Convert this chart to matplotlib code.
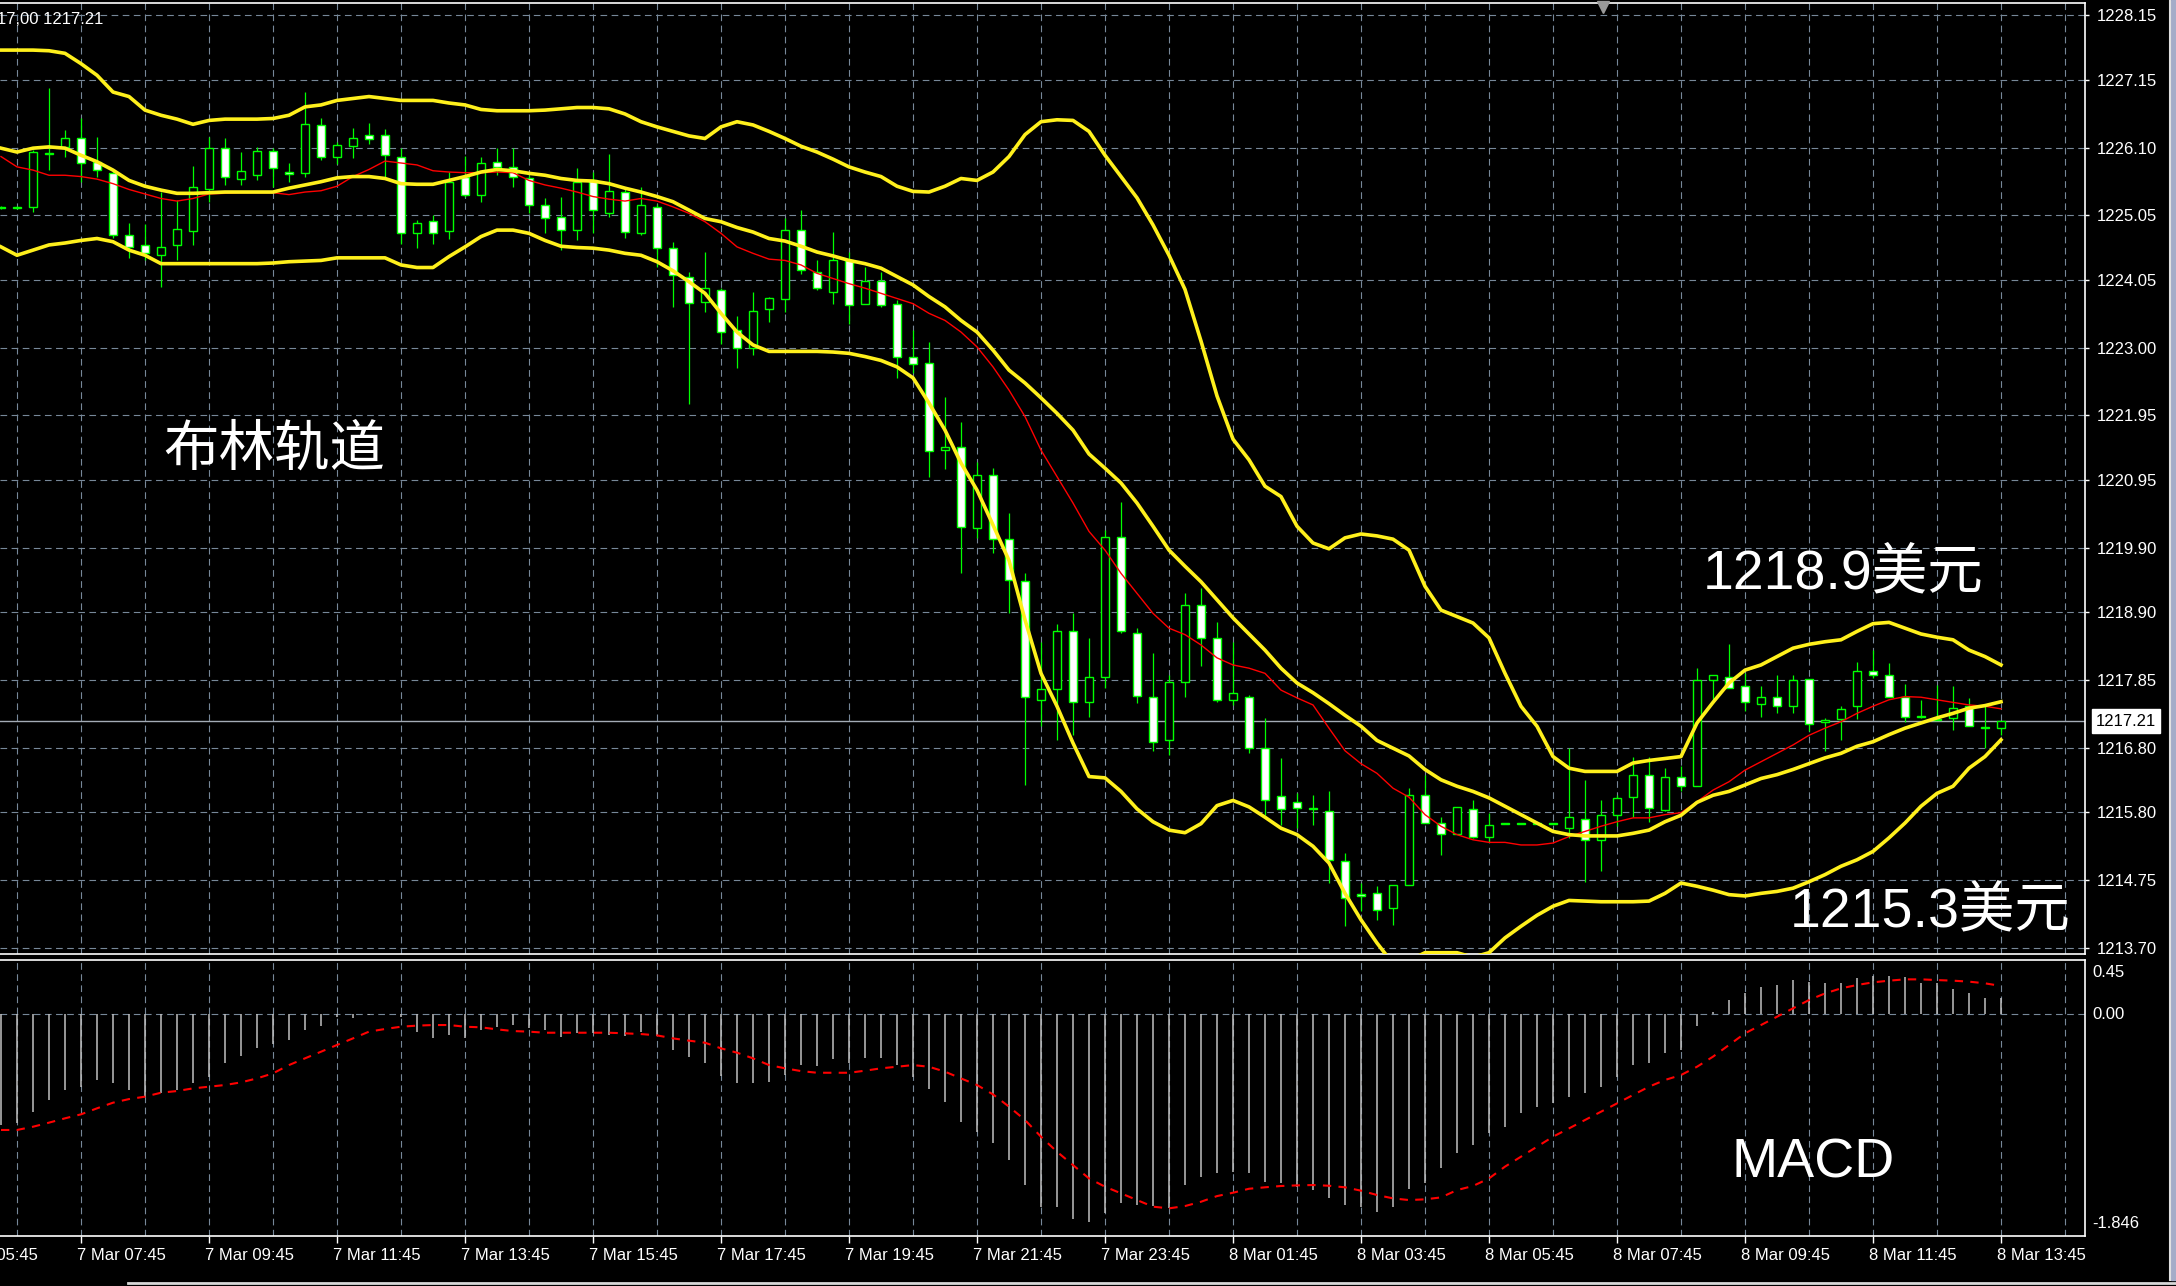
import matplotlib
matplotlib.use("Agg")
import matplotlib.pyplot as plt
import numpy as np
from matplotlib.transforms import blended_transform_factory
from matplotlib.lines import Line2D
from matplotlib.patches import Rectangle

# 15-minute candles, 7 Mar 06:30 .. 8 Mar 13:45
opens = [
    1225.17, 1225.17, 1225.18, 1226.00, 1226.11, 1226.24, 1225.88, 1225.71, 1224.74, 1224.59,
    1224.43, 1224.59, 1224.80, 1225.45, 1226.09, 1225.61, 1225.67, 1226.05, 1225.72, 1225.70,
    1226.45, 1225.96, 1226.12, 1226.29, 1226.29, 1225.95, 1224.78, 1224.96, 1224.80, 1225.65,
    1225.36, 1225.88, 1225.80, 1225.62, 1225.21, 1225.03, 1224.82, 1225.59, 1225.09, 1225.41,
    1224.77, 1225.18, 1224.54, 1224.10, 1223.71, 1223.89, 1223.27, 1222.99, 1223.59, 1223.75,
    1224.82, 1224.17, 1223.86, 1224.35, 1223.68, 1224.03, 1223.67, 1222.86, 1222.76, 1221.41,
    1221.46, 1220.20, 1221.02, 1220.03, 1219.38, 1217.53, 1217.70, 1218.61, 1217.50, 1217.90,
    1220.07, 1218.57, 1217.59, 1216.91, 1217.81, 1219.01, 1218.50, 1217.53, 1217.59, 1216.79,
    1216.05, 1215.95, 1215.87, 1215.82, 1215.04, 1214.53, 1214.55, 1214.31, 1214.67, 1216.07,
    1215.63, 1215.46, 1215.84, 1215.42, 1215.62, 1215.62, 1215.62, 1215.62, 1215.55, 1215.69,
    1215.36, 1215.76, 1216.04, 1216.38, 1215.83, 1216.35, 1216.20, 1217.84, 1217.90, 1217.75,
    1217.48, 1217.59, 1217.44, 1217.86, 1217.19, 1217.24, 1217.44, 1217.99, 1217.93, 1217.59,
    1217.28, 1217.23, 1217.26, 1217.44, 1217.11, 1217.10,
]
highs = [
    1225.19, 1225.19, 1226.06, 1227.02, 1226.37, 1226.55, 1226.27, 1225.75, 1224.93, 1224.92,
    1225.41, 1225.28, 1225.81, 1226.27, 1226.24, 1226.03, 1226.11, 1226.09, 1225.86, 1226.96,
    1226.55, 1226.19, 1226.40, 1226.48, 1226.39, 1226.09, 1224.97, 1225.06, 1225.72, 1225.97,
    1225.96, 1226.09, 1226.09, 1225.67, 1225.31, 1225.34, 1225.78, 1225.72, 1226.00, 1225.47,
    1225.49, 1225.23, 1224.64, 1224.17, 1224.48, 1223.92, 1223.49, 1223.86, 1223.79, 1225.00,
    1225.13, 1224.35, 1224.79, 1224.48, 1224.25, 1224.17, 1223.73, 1223.27, 1223.09, 1222.24,
    1221.85, 1221.23, 1221.13, 1220.44, 1219.51, 1218.44, 1218.72, 1218.89, 1218.50, 1220.17,
    1220.60, 1218.65, 1218.27, 1217.93, 1219.20, 1219.27, 1218.74, 1218.44, 1217.62, 1217.26,
    1216.64, 1216.10, 1216.07, 1216.12, 1215.16, 1214.70, 1214.65, 1214.67, 1216.17, 1216.38,
    1215.73, 1215.88, 1215.99, 1215.78, 1215.63, 1215.63, 1215.63, 1215.63, 1216.79, 1216.30,
    1215.99, 1216.07, 1216.66, 1216.66, 1216.48, 1216.51, 1218.03, 1217.93, 1218.41, 1217.95,
    1217.75, 1217.93, 1217.93, 1217.86, 1217.26, 1217.44, 1218.13, 1218.31, 1218.11, 1217.79,
    1217.54, 1217.77, 1217.75, 1217.57, 1217.44, 1217.21,
]
lows = [
    1225.15, 1225.15, 1225.10, 1225.75, 1225.96, 1225.57, 1225.65, 1224.69, 1224.38, 1224.35,
    1223.94, 1224.35, 1224.59, 1225.26, 1225.52, 1225.52, 1225.59, 1225.49, 1225.57, 1225.65,
    1225.90, 1225.85, 1225.94, 1226.16, 1225.65, 1224.61, 1224.55, 1224.61, 1224.68, 1225.33,
    1225.26, 1225.67, 1225.49, 1225.08, 1224.77, 1224.51, 1224.66, 1224.77, 1225.03, 1224.69,
    1224.74, 1224.25, 1223.63, 1222.13, 1223.55, 1223.06, 1222.68, 1222.88, 1223.40, 1223.55,
    1224.14, 1223.89, 1223.68, 1223.37, 1223.68, 1223.63, 1222.52, 1222.60, 1220.99, 1221.12,
    1219.50, 1220.05, 1219.81, 1218.88, 1216.22, 1217.13, 1216.91, 1217.00, 1217.27, 1217.72,
    1218.57, 1217.49, 1216.75, 1216.69, 1217.58, 1218.07, 1217.50, 1217.46, 1216.72, 1215.75,
    1215.60, 1215.55, 1215.60, 1214.70, 1214.03, 1214.26, 1214.13, 1214.05, 1214.67, 1215.63,
    1215.14, 1215.46, 1215.40, 1215.34, 1215.61, 1215.61, 1215.61, 1215.61, 1215.40, 1214.72,
    1214.88, 1215.58, 1215.73, 1215.65, 1215.81, 1216.12, 1216.20, 1217.49, 1217.72, 1217.36,
    1217.28, 1217.33, 1217.33, 1217.05, 1216.74, 1216.92, 1217.24, 1217.88, 1217.59, 1217.20,
    1217.26, 1217.22, 1217.07, 1217.13, 1216.79, 1217.00,
]
closes = [
    1225.17, 1225.17, 1226.03, 1226.02, 1226.24, 1225.86, 1225.75, 1224.74, 1224.56, 1224.46,
    1224.56, 1224.84, 1225.49, 1226.09, 1225.65, 1225.74, 1226.05, 1225.78, 1225.69, 1226.47,
    1225.95, 1226.14, 1226.24, 1226.23, 1225.98, 1224.78, 1224.93, 1224.78, 1225.57, 1225.36,
    1225.86, 1225.80, 1225.65, 1225.21, 1225.00, 1224.82, 1225.57, 1225.13, 1225.43, 1224.79,
    1225.21, 1224.54, 1224.12, 1223.69, 1223.92, 1223.24, 1222.99, 1223.57, 1223.76, 1224.82,
    1224.20, 1223.92, 1224.35, 1223.66, 1224.03, 1223.66, 1222.86, 1222.75, 1221.40, 1221.46,
    1220.22, 1221.02, 1220.03, 1219.40, 1217.59, 1217.70, 1218.61, 1217.50, 1217.90, 1220.07,
    1218.61, 1217.60, 1216.88, 1217.81, 1219.01, 1218.50, 1217.53, 1217.65, 1216.79, 1215.98,
    1215.85, 1215.86, 1215.85, 1215.06, 1214.47, 1214.50, 1214.28, 1214.67, 1216.07, 1215.63,
    1215.46, 1215.88, 1215.42, 1215.60, 1215.62, 1215.62, 1215.62, 1215.62, 1215.73, 1215.37,
    1215.76, 1216.02, 1216.38, 1215.86, 1216.35, 1216.20, 1217.85, 1217.93, 1217.72, 1217.50,
    1217.59, 1217.44, 1217.84, 1217.17, 1217.22, 1217.40, 1217.99, 1217.93, 1217.59, 1217.28,
    1217.28, 1217.23, 1217.41, 1217.13, 1217.11, 1217.21,
]

# bollinger bands and the red moving average, read per candle
band_upper = [
    1227.61, 1227.61, 1227.61, 1227.60, 1227.56, 1227.40, 1227.22, 1226.96, 1226.89, 1226.68,
    1226.60, 1226.54, 1226.46, 1226.52, 1226.54, 1226.54, 1226.54, 1226.55, 1226.60, 1226.73,
    1226.76, 1226.83, 1226.86, 1226.89, 1226.86, 1226.83, 1226.83, 1226.83, 1226.79, 1226.76,
    1226.69, 1226.67, 1226.67, 1226.67, 1226.68, 1226.70, 1226.72, 1226.72, 1226.70, 1226.62,
    1226.50, 1226.42, 1226.35, 1226.28, 1226.24, 1226.42, 1226.50, 1226.45, 1226.35, 1226.24,
    1226.12, 1226.03, 1225.92, 1225.80, 1225.72, 1225.65, 1225.50, 1225.42, 1225.41, 1225.50,
    1225.62, 1225.59, 1225.72, 1225.96, 1226.30, 1226.50, 1226.53, 1226.52, 1226.35, 1225.98,
    1225.65, 1225.32, 1224.90, 1224.43, 1223.90, 1223.10, 1222.25, 1221.58, 1221.26, 1220.85,
    1220.69, 1220.23, 1219.97, 1219.88, 1220.05, 1220.11, 1220.08, 1220.03, 1219.86, 1219.30,
    1218.93, 1218.83, 1218.73, 1218.50, 1217.95, 1217.44, 1217.13, 1216.66, 1216.48, 1216.43,
    1216.43, 1216.43, 1216.56, 1216.60, 1216.63, 1216.66, 1217.18, 1217.50, 1217.80, 1218.00,
    1218.08, 1218.21, 1218.34, 1218.40, 1218.44, 1218.47, 1218.60, 1218.72, 1218.74, 1218.65,
    1218.56, 1218.51, 1218.47, 1218.31, 1218.21, 1218.08,
]
band_mid = [
    1226.09, 1226.03, 1226.09, 1226.11, 1226.09, 1225.98, 1225.88, 1225.75, 1225.59, 1225.50,
    1225.44, 1225.39, 1225.39, 1225.40, 1225.41, 1225.41, 1225.41, 1225.41, 1225.47, 1225.52,
    1225.57, 1225.63, 1225.65, 1225.65, 1225.62, 1225.54, 1225.53, 1225.53, 1225.59, 1225.65,
    1225.72, 1225.76, 1225.74, 1225.70, 1225.67, 1225.62, 1225.59, 1225.58, 1225.54, 1225.47,
    1225.41, 1225.34, 1225.26, 1225.13, 1225.00, 1224.95, 1224.86, 1224.79, 1224.69, 1224.65,
    1224.57, 1224.48, 1224.42, 1224.35, 1224.30, 1224.23, 1224.10, 1223.97, 1223.79, 1223.63,
    1223.42, 1223.24, 1222.96, 1222.65, 1222.45, 1222.22, 1221.98, 1221.72, 1221.35, 1221.13,
    1220.90, 1220.59, 1220.23, 1219.86, 1219.61, 1219.37, 1219.09, 1218.81, 1218.56, 1218.31,
    1218.03, 1217.80, 1217.65, 1217.48, 1217.30, 1217.13, 1216.91, 1216.79, 1216.67, 1216.46,
    1216.30, 1216.20, 1216.12, 1216.02, 1215.89, 1215.76, 1215.63, 1215.50, 1215.45, 1215.43,
    1215.43, 1215.43, 1215.47, 1215.52, 1215.65, 1215.75, 1215.95, 1216.06, 1216.12, 1216.22,
    1216.32, 1216.38, 1216.46, 1216.55, 1216.64, 1216.71, 1216.82, 1216.89, 1217.00, 1217.10,
    1217.18, 1217.26, 1217.33, 1217.41, 1217.45, 1217.51,
]
band_lower = [
    1224.56, 1224.43, 1224.51, 1224.59, 1224.62, 1224.66, 1224.69, 1224.64, 1224.51, 1224.43,
    1224.30, 1224.30, 1224.30, 1224.30, 1224.30, 1224.30, 1224.30, 1224.31, 1224.33, 1224.34,
    1224.35, 1224.39, 1224.39, 1224.39, 1224.39, 1224.28, 1224.24, 1224.24, 1224.41, 1224.56,
    1224.72, 1224.82, 1224.82, 1224.77, 1224.66, 1224.57, 1224.55, 1224.54, 1224.51, 1224.46,
    1224.43, 1224.33, 1224.19, 1224.02, 1223.84, 1223.53, 1223.24, 1223.04, 1222.94, 1222.94,
    1222.94, 1222.94, 1222.93, 1222.91, 1222.86, 1222.80, 1222.70, 1222.53, 1222.14, 1221.72,
    1221.21, 1220.79, 1220.25, 1219.70, 1218.78, 1217.95, 1217.44, 1216.87, 1216.35, 1216.33,
    1216.12, 1215.85, 1215.65, 1215.52, 1215.48, 1215.62, 1215.90, 1215.98, 1215.88, 1215.72,
    1215.55, 1215.45, 1215.27, 1215.01, 1214.54, 1214.13, 1213.77, 1213.45, 1213.50, 1213.62,
    1213.62, 1213.62, 1213.55, 1213.62, 1213.85, 1214.03, 1214.20, 1214.34, 1214.43, 1214.42,
    1214.41, 1214.41, 1214.41, 1214.42, 1214.54, 1214.70, 1214.65, 1214.59, 1214.52, 1214.50,
    1214.54, 1214.57, 1214.62, 1214.72, 1214.83, 1214.96, 1215.06, 1215.19, 1215.40, 1215.63,
    1215.89, 1216.09, 1216.20, 1216.48, 1216.66, 1216.92,
]
red_ma = [
    1225.96, 1225.80, 1225.75, 1225.67, 1225.67, 1225.65, 1225.61, 1225.54, 1225.45, 1225.38,
    1225.31, 1225.27, 1225.31, 1225.38, 1225.39, 1225.40, 1225.40, 1225.40, 1225.37, 1225.41,
    1225.43, 1225.50, 1225.65, 1225.76, 1225.89, 1225.86, 1225.83, 1225.74, 1225.72, 1225.71,
    1225.71, 1225.72, 1225.71, 1225.59, 1225.52, 1225.47, 1225.41, 1225.34, 1225.30, 1225.27,
    1225.31, 1225.27, 1225.18, 1225.08, 1224.95, 1224.77, 1224.56, 1224.46, 1224.37, 1224.35,
    1224.28, 1224.15, 1224.07, 1223.99, 1223.92, 1223.84, 1223.76, 1223.68, 1223.53, 1223.42,
    1223.24, 1223.01, 1222.70, 1222.34, 1221.93, 1221.41, 1221.00, 1220.59, 1220.15, 1219.86,
    1219.50, 1219.19, 1218.88, 1218.65, 1218.55, 1218.39, 1218.19, 1218.08, 1218.03, 1217.95,
    1217.69, 1217.57, 1217.46, 1217.10, 1216.75, 1216.55, 1216.40, 1216.17, 1216.03, 1215.76,
    1215.58, 1215.45, 1215.37, 1215.33, 1215.33, 1215.29, 1215.29, 1215.32, 1215.42, 1215.50,
    1215.58, 1215.65, 1215.71, 1215.71, 1215.76, 1215.79, 1215.96, 1216.14, 1216.27, 1216.45,
    1216.58, 1216.71, 1216.84, 1216.99, 1217.10, 1217.20, 1217.33, 1217.44, 1217.54, 1217.59,
    1217.58, 1217.54, 1217.50, 1217.46, 1217.44, 1217.40,
]

macd_main = [
    -0.923, -0.909, -0.812, -0.715, -0.632, -0.604, -0.548, -0.576, -0.632, -0.687,
    -0.659, -0.632, -0.576, -0.521, -0.410, -0.349, -0.280, -0.249, -0.216, -0.133,
    -0.099, -0.022, -0.030, -0.008, -0.002, -0.022, -0.146, -0.196, -0.174, -0.202,
    -0.133, -0.105, -0.091, -0.119, -0.133, -0.194, -0.160, -0.160, -0.174, -0.180,
    -0.146, -0.182, -0.299, -0.360, -0.410, -0.515, -0.576, -0.576, -0.562, -0.507,
    -0.424, -0.432, -0.377, -0.410, -0.363, -0.363, -0.424, -0.521, -0.626, -0.729,
    -0.895, -0.978, -1.075, -1.214, -1.422, -1.602, -1.608, -1.708, -1.727, -1.658,
    -1.574, -1.588, -1.597, -1.616, -1.422, -1.353, -1.325, -1.311, -1.325, -1.394,
    -1.408, -1.436, -1.464, -1.533, -1.588, -1.602, -1.644, -1.608, -1.458, -1.408,
    -1.283, -1.159, -1.089, -0.992, -0.937, -0.826, -0.770, -0.743, -0.687, -0.659,
    -0.604, -0.521, -0.424, -0.410, -0.327, -0.299, -0.099, 0.020, 0.117, 0.172,
    0.222, 0.242, 0.283, 0.270, 0.256, 0.256, 0.297, 0.317, 0.317, 0.306,
    0.256, 0.256, 0.206, 0.172, 0.131, 0.131,
]
macd_signal = [
    -0.964, -0.964, -0.937, -0.903, -0.867, -0.834, -0.784, -0.737, -0.707, -0.687,
    -0.654, -0.640, -0.618, -0.604, -0.590, -0.568, -0.535, -0.493, -0.424, -0.368,
    -0.313, -0.257, -0.202, -0.146, -0.124, -0.105, -0.096, -0.091, -0.091, -0.105,
    -0.110, -0.127, -0.141, -0.146, -0.155, -0.155, -0.155, -0.155, -0.155, -0.160,
    -0.166, -0.177, -0.202, -0.221, -0.238, -0.285, -0.321, -0.368, -0.424, -0.451,
    -0.474, -0.488, -0.488, -0.488, -0.471, -0.451, -0.438, -0.424, -0.438, -0.479,
    -0.535, -0.590, -0.668, -0.770, -0.881, -1.020, -1.145, -1.256, -1.367, -1.436,
    -1.491, -1.547, -1.602, -1.616, -1.597, -1.561, -1.514, -1.486, -1.453, -1.441,
    -1.430, -1.425, -1.422, -1.428, -1.441, -1.469, -1.505, -1.533, -1.547, -1.541,
    -1.525, -1.464, -1.430, -1.367, -1.269, -1.186, -1.103, -1.020, -0.951, -0.881,
    -0.812, -0.743, -0.673, -0.604, -0.548, -0.507, -0.438, -0.354, -0.257, -0.160,
    -0.091, -0.022, 0.048, 0.117, 0.172, 0.214, 0.242, 0.264, 0.278, 0.289,
    0.289, 0.283, 0.278, 0.270, 0.256, 0.234,
]

price_ticks = [1228.15, 1227.15, 1226.10, 1225.05, 1224.05, 1223.00, 1221.95, 1220.95,
               1219.90, 1218.90, 1217.85, 1216.80, 1215.80, 1214.75, 1213.70]
last_price = 1217.21
macd_labels = ["0.45", "0.00", "-1.846"]
time_idx = [-3, 5, 13, 21, 29, 37, 45, 53, 61, 69, 77, 85, 93, 101, 109, 117, 125]
time_labels = ["7 Mar 05:45", "7 Mar 07:45", "7 Mar 09:45", "7 Mar 11:45", "7 Mar 13:45",
               "7 Mar 15:45", "7 Mar 17:45", "7 Mar 19:45", "7 Mar 21:45", "7 Mar 23:45",
               "8 Mar 01:45", "8 Mar 03:45", "8 Mar 05:45", "8 Mar 07:45", "8 Mar 09:45",
               "8 Mar 11:45", "8 Mar 13:45"]

W, H = 2176, 1286
GREEN = "#00ff00"
YELLOW = "#fff01c"
GRID = "#778899"
DASH = (0, (6, 4))

plt.rcParams["font.family"] = ["Liberation Sans", "Noto Sans CJK SC", "DejaVu Sans"]

fig = plt.figure(figsize=(W / 100, H / 100), dpi=100, facecolor="black")


def box(x0, y0, x1, y1):
    return [x0 / W, 1 - y1 / H, (x1 - x0) / W, (y1 - y0) / H]


def put(x, y, s, **kw):
    fig.text(x / W, 1 - y / H, s, color="white", va="center", ha="left", **kw)


ax = fig.add_axes(box(0, 3, 2085, 954), facecolor="black")
axm = fig.add_axes(box(0, 960, 2085, 1236), facecolor="black")

idx = np.arange(len(closes))
o, h, l, c = map(np.array, (opens, highs, lows, closes))

for a in (ax, axm):
    a.set_xlim(-0.0625, 130.25)
    for gx in range(1, 130, 4):
        a.axvline(gx, color=GRID, lw=0.8, ls=DASH, zorder=1)
    a.spines["left"].set_visible(False)
    for s in ("top", "right", "bottom"):
        a.spines[s].set_color("white")
        a.spines[s].set_linewidth(1.2)

# price window
ax.set_ylim(1213.60, 1228.34)
for p in price_ticks:
    ax.axhline(p, color=GRID, lw=0.8, ls=DASH, zorder=1)
ax.axhline(last_price, color="#a3abb5", lw=1.0, zorder=2)

ax.vlines(idx, l, h, color=GREEN, lw=0.9, zorder=3)
face = np.where(c > o, "black", "white")
ax.bar(idx, np.maximum(np.abs(c - o), 0.015), bottom=np.minimum(o, c), width=0.47,
       color=face, edgecolor=GREEN, linewidth=1.0, zorder=4)

ax.plot(idx, red_ma, color="red", lw=1.0, zorder=5)
for band in (band_upper, band_mid, band_lower):
    ax.plot(idx, band, color=YELLOW, lw=2.6, zorder=6)

ax.set_xticks([])
ax.yaxis.tick_right()
ax.set_yticks(price_ticks)
ax.set_yticklabels([f"{p:.2f}" for p in price_ticks])
ax.tick_params(axis="y", colors="white", length=3, width=1, pad=5.5, labelsize=12)
ax.text(1 + 11 / 2085, last_price, f"{last_price:.2f}",
        transform=blended_transform_factory(ax.transAxes, ax.transData),
        color="black", fontsize=12, va="center", ha="left", clip_on=False, zorder=10,
        bbox=dict(boxstyle="square,pad=0.25", fc="white", ec="white"))

# MACD window
axm.set_ylim(-1.846, 0.45)
axm.axhline(0, color=GRID, lw=0.8, ls=DASH, zorder=1)
axm.vlines(idx, 0, macd_main, color="#c0c0c0", lw=1.1, zorder=3)
axm.plot(idx, macd_signal, color="red", lw=1.5, ls=(0, (4, 3.5)), zorder=4)
axm.set_yticks([])
axm.set_xticks([t for t in time_idx if t >= 0])
axm.set_xticklabels([])
axm.tick_params(axis="x", colors="white", length=5, width=1)

for yy, lab in zip([0.953, 0.804, 0.047], macd_labels):
    axm.text(1 + 7 / 2085, yy, lab, transform=axm.transAxes, color="white",
             fontsize=12, va="center", ha="left", clip_on=False)
for t, lab in zip(time_idx, time_labels):
    axm.text(t - 0.25, -0.069, lab, transform=axm.get_xaxis_transform(), color="white",
             fontsize=12, va="center", ha="left", clip_on=False)

# annotations
put(163, 450, "布林轨道", fontsize=40, family=["Noto Sans CJK SC"])
put(1703, 574, "1218.9美元", fontsize=40)
put(1790, 912, "1215.3美元", fontsize=40)
put(1732, 1163, "MACD", fontsize=40)
put(-3, 20, "17,00 1217.21", fontsize=12)

# window frame bits
fig.add_artist(Line2D([1603 / W], [1 - 7 / H], marker="v", ls="none", color="#9a9a9a",
                      ms=9, transform=fig.transFigure))
fig.add_artist(Line2D([128 / W, 1], [1 - 1283 / H] * 2, color="#d8d8d8", lw=2,
                      transform=fig.transFigure))
fig.add_artist(Line2D([2170 / W] * 2, [1 - 1280 / H, 1], color="#e0e0e0", lw=1.5,
                      transform=fig.transFigure))
fig.add_artist(Rectangle((2171 / W, 1 - 1280 / H), 5 / W, 1280 / H, color="#a4acc8",
                         transform=fig.transFigure))

fig.savefig("out.png", dpi=100, facecolor="black")
